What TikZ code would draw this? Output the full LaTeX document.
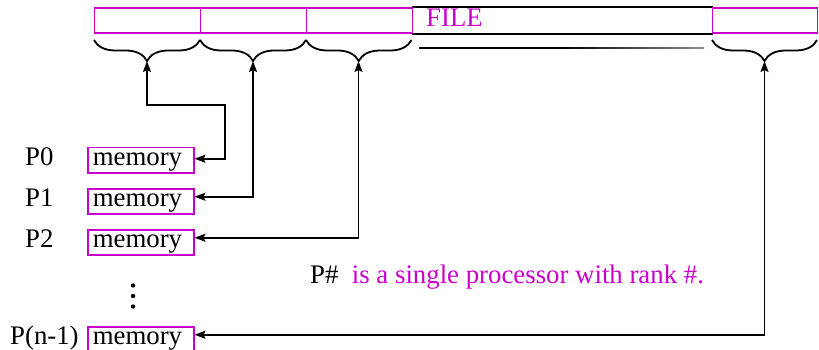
\documentclass[tikz,border=0pt]{standalone}
\usepackage{fontspec}
\setmainfont{Liberation Serif}
\usetikzlibrary{decorations.pathreplacing,arrows.meta,calc}
\definecolor{mag}{RGB}{204,0,204}
\begin{document}
\begin{tikzpicture}[x=1pt,y=-1pt,
  font=\rmfamily\fontsize{26.8}{30}\selectfont,
  cell/.style={draw=mag,line width=1.3pt,minimum height=24.8pt,inner sep=0pt,anchor=north west},
  mem/.style={draw=mag,line width=1.5pt,minimum width=106pt,text width=96pt,inner xsep=5pt,inner ysep=0pt,text height=18pt,text depth=7pt,align=left,anchor=north west},
  lab/.style={inner sep=0pt,anchor=base west},
  dot/.style={circle,fill=black,inner sep=0pt,minimum size=4.4pt},
  brc/.style={decorate,decoration={brace,mirror,amplitude=21pt},line width=1.8pt,black},
  conn/.style={line width=1.8pt,black,{Stealth[length=11pt,width=8pt,inset=2pt]}-{Stealth[length=11pt,width=8pt,inset=2pt]}},
]
\useasboundingbox (0,0) rectangle (819,350);
% file strip
\node[cell,draw=none,minimum width=300.5pt] (fb) at (411.5,7.5) {};
\draw[line width=2pt,black] (fb.north west) -- (fb.north east);
\draw[line width=2pt,black] (fb.south west) -- (fb.south east);
\node[cell,minimum width=106pt] (c1) at (94,7.5) {};
\node[cell,minimum width=106pt] (c2) at (200,7.5) {};
\node[cell,minimum width=105.5pt] (c3) at (306,7.5) {};
\node[cell,minimum width=105pt] (c5) at (712,7.5) {};
\node[lab,text=mag] (file) at (426,27) {FILE};
% braces
\draw[brc] (94,40) -- (200,40);
\draw[brc] (200,40) -- (306,40);
\draw[brc] (306,40) -- (411.5,40);
\draw[brc] (712,40) -- (817,40);
\draw[line width=1.5pt,black] (419,48) -- (560,48);
\shade[left color=black,right color=black!45] (560,47.25) rectangle (704,48.75);
\coordinate (t1) at (147,61);
\coordinate (t2) at (253,61);
\coordinate (t3) at (358.5,61);
\coordinate (t4) at (764.5,61);
% memories
\node[mem] (m0) at (87,147) {memory};
\node[mem] (m1) at (87,188) {memory};
\node[mem] (m2) at (87,229) {memory};
\node[mem] (m3) at (87,326) {memory};
\node[lab] (p0) at (25,165) {P0};
\node[lab] (p1) at (25,206) {P1};
\node[lab] (p2) at (25,247) {P2};
\node[lab] (p3) at (10,344) {P(n-1)};
\node[dot] (d1) at (133,285.5) {};
\node[dot] (d2) at (133,296) {};
\node[dot] (d3) at (133,306.5) {};
\node[lab] (note) at (310,283) {P\#\ \ \textcolor{mag}{is a single processor with rank \#.}};
% connectors
\draw[conn] (t1) |- (225,105) |- ([yshift=1.5pt]m0.east);
\draw[conn] (t2) |- ([yshift=4.5pt]m1.east);
\draw[conn] (t3) |- ([yshift=4.5pt]m2.east);
\draw[conn] (t4) |- ([yshift=4.5pt]m3.east);
\end{tikzpicture}
\end{document}
